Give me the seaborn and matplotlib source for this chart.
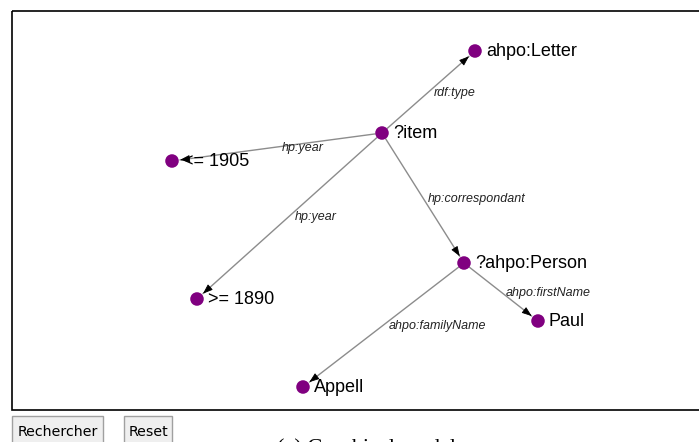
import matplotlib
matplotlib.use('Agg')
import matplotlib.pyplot as plt
from matplotlib.patches import Rectangle
import numpy as np
import pandas as pd
import seaborn as sns

# Graph nodes (pixel layout)
node_names = ['?item', 'ahpo:Letter', '<= 1905', '>= 1890', '?ahpo:Person', 'Paul', 'Appell']
node_x = [382, 475, 172, 197, 464, 538, 303]
node_y = [133, 51, 161, 299, 263, 321, 387]

# Graph edges: source, target, predicate
edge_src = ['?item', '?item', '?item', '?item', '?ahpo:Person', '?ahpo:Person']
edge_tgt = ['ahpo:Letter', '<= 1905', '>= 1890', '?ahpo:Person', 'Paul', 'Appell']
edge_lbl = ['rdf:type', 'hp:year', 'hp:year', 'hp:correspondant', 'ahpo:firstName', 'ahpo:familyName']

nodes = pd.DataFrame({'name': node_names, 'x': node_x, 'y': node_y})
pos = {n: np.array([x, y], dtype=float) for n, x, y in zip(node_names, node_x, node_y)}

sns.set_style('white')
plt.rcParams['font.family'] = ['Liberation Sans', 'DejaVu Sans']

fig = plt.figure(figsize=(6.99, 4.42), dpi=100)
ax = fig.add_axes([0, 0, 1, 1])
ax.set_xlim(0, 699)
ax.set_ylim(442, 0)
ax.axis('off')

# frame of the drawing area
ax.add_patch(Rectangle((12, 11), 700, 399, fill=False, edgecolor='black', lw=1.2, zorder=1))

# edges
for s, t, lbl in zip(edge_src, edge_tgt, edge_lbl):
    a, b = pos[s], pos[t]
    u = (b - a) / np.linalg.norm(b - a)
    start = a + u * 7
    tip = b - u * 8
    ax.plot([start[0], tip[0]], [start[1], tip[1]], color='#8c8c8c', lw=1.0, zorder=2)
    ax.annotate('', xy=tip, xytext=tip - u * 9,
                arrowprops=dict(arrowstyle='-|>,head_length=0.6,head_width=0.22',
                                color='black', lw=0.6, shrinkA=0, shrinkB=0,
                                mutation_scale=10), zorder=3)
    mid = (a + b) / 2
    ax.text(mid[0] + 5, mid[1] + 1, lbl, fontsize=9, style='italic', color='#222222',
            ha='left', va='center', zorder=4)

# nodes
sns.scatterplot(data=nodes, x='x', y='y', color='#800080', s=95, edgecolor='none',
                legend=False, ax=ax, zorder=5)
for n, x, y in zip(node_names, node_x, node_y):
    ax.text(x + 11, y, n, fontsize=13, color='black', ha='left', va='center', zorder=6)

ax.set_xlim(0, 699)
ax.set_ylim(442, 0)
ax.set_xlabel('')
ax.set_ylabel('')

# buttons under the drawing
for bx, bw, txt in [(12, 91, 'Rechercher'), (124, 48, 'Reset')]:
    ax.add_patch(Rectangle((bx, 416), bw, 30, facecolor='#efefef', edgecolor='#a0a0a0',
                           lw=1, zorder=1))
    ax.text(bx + bw / 2, 432, txt, fontsize=10.2, family='DejaVu Sans', color='black',
            ha='center', va='center', zorder=2)

# caption (cut by the bottom edge, as in the reference)
ax.text(277, 453, '(a) Graphical model', fontsize=16, family='Liberation Serif',
        color='black', ha='left', va='baseline')

fig.savefig('out.png', dpi=100)
